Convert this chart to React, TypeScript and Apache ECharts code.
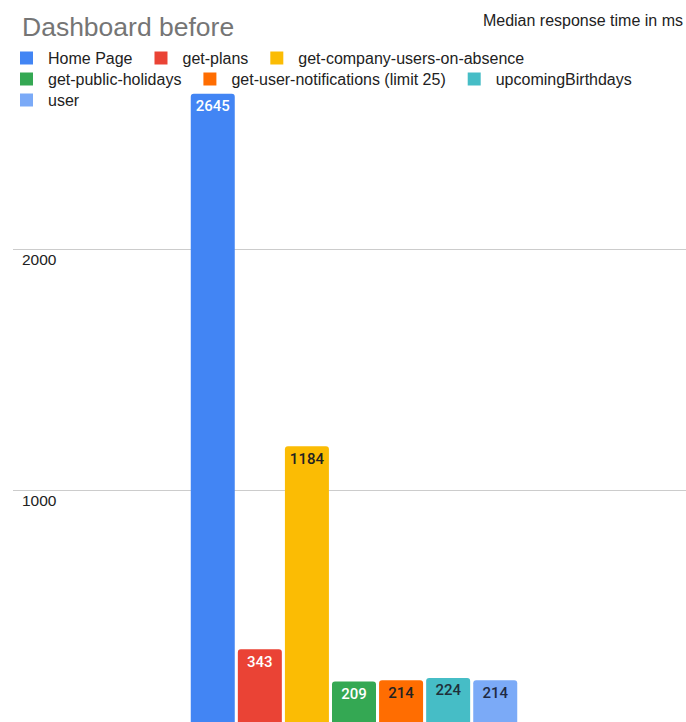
import React, { useEffect, useRef } from "react";
import * as echarts from "echarts";

const categories = ["Dashboard before"];
const seriesNames = [
  "Home Page",
  "get-plans",
  "get-company-users-on-absence",
  "get-public-holidays",
  "get-user-notifications (limit 25)",
  "upcomingBirthdays",
  "user",
];
const seriesValues = [2645, 343, 1184, 209, 214, 224, 214];
const seriesColors = ["#4285F4", "#EA4335", "#FBBC04", "#34A853", "#FF6D01", "#46BDC6", "#7BAAF7"];
const labelColors = ["#ffffff", "#ffffff", "#222222", "#ffffff", "#222222", "#1f2f3a", "#1f2a44"];
const legendRows = [
  ["Home Page", "get-plans", "get-company-users-on-absence"],
  ["get-public-holidays", "get-user-notifications (limit 25)", "upcomingBirthdays"],
  ["user"],
];
const yMin = 0;
const yMax = 3000;
const yInterval = 1000;

const FONT = "'Liberation Sans', Arial, sans-serif";

export default function App() {
  const ref = useRef<HTMLDivElement>(null);
  useEffect(() => {
    if (!ref.current) return;
    const chart = echarts.init(ref.current, null, { renderer: "svg" });
    const legendTops = [50, 71, 92];
    chart.setOption({
      animation: false,
      textStyle: { fontFamily: FONT },
      title: [
        {
          text: "Dashboard before",
          left: 17,
          top: 8,
          padding: 5,
          textStyle: { fontFamily: FONT, fontSize: 26.5, fontWeight: "normal", color: "#757575" },
        },
        {
          text: "Median response time in ms",
          right: 3,
          top: 12,
          padding: 0,
          textStyle: { fontFamily: FONT, fontSize: 16, fontWeight: "normal", color: "#222222" },
        },
      ],
      legend: legendRows.map((row, i) => ({
        data: row,
        left: 20,
        top: legendTops[i],
        padding: 0,
        orient: "horizontal",
        icon: "rect",
        itemWidth: 13,
        itemHeight: 13,
        itemGap: 22,
        selectedMode: false,
        textStyle: {
          fontFamily: FONT,
          fontSize: 16,
          color: "#222222",
          padding: [0, 0, 0, 10],
        },
      })),
      grid: [
        { left: 13, right: 0, top: 8, bottom: 28 },
        { left: 22, right: 0, top: 8, bottom: 28 },
      ],
      xAxis: [
        {
          type: "category",
          gridIndex: 0,
          data: categories,
          axisLine: { show: false },
          axisTick: { show: false },
          axisLabel: { show: false },
        },
        {
          type: "category",
          gridIndex: 1,
          data: categories,
          axisLine: { show: false },
          axisTick: { show: false },
          axisLabel: { show: false },
        },
      ],
      yAxis: [
        {
          type: "value",
          gridIndex: 0,
          min: yMin,
          max: yMax,
          interval: yInterval,
          axisLine: { show: false },
          axisTick: { show: false },
          axisLabel: {
            inside: true,
            margin: 9,
            showMaxLabel: false,
            showMinLabel: false,
            verticalAlign: "top",
            padding: [2, 0, 0, 0],
            fontFamily: FONT,
            fontSize: 15.5,
            color: "#222222",
            formatter: (v: number) => String(v),
          },
          splitLine: { show: true, showMaxLine: false, lineStyle: { color: "#cccccc", width: 1 } },
        },
        {
          type: "value",
          gridIndex: 1,
          min: yMin,
          max: yMax,
          interval: yInterval,
          axisLine: { show: false },
          axisTick: { show: false },
          axisLabel: { show: false },
          splitLine: { show: false },
        },
      ],
      series: seriesNames.map((name, i) => ({
        name,
        type: "bar",
        xAxisIndex: 1,
        yAxisIndex: 1,
        data: [seriesValues[i]],
        barWidth: 44,
        barGap: "7%",
        itemStyle: { color: seriesColors[i], borderRadius: [3, 3, 0, 0] },
        label: {
          show: true,
          position: "insideTop",
          distance: 5,
          fontFamily: "Roboto, sans-serif",
          fontWeight: 500,
          fontSize: 15,
          color: labelColors[i],
        },
      })),
    });
    return () => chart.dispose();
  }, []);
  return (
    <div
      ref={ref}
      style={{ position: "fixed", left: 0, top: 0, width: 686, height: 760, background: "#ffffff" }}
    />
  );
}
